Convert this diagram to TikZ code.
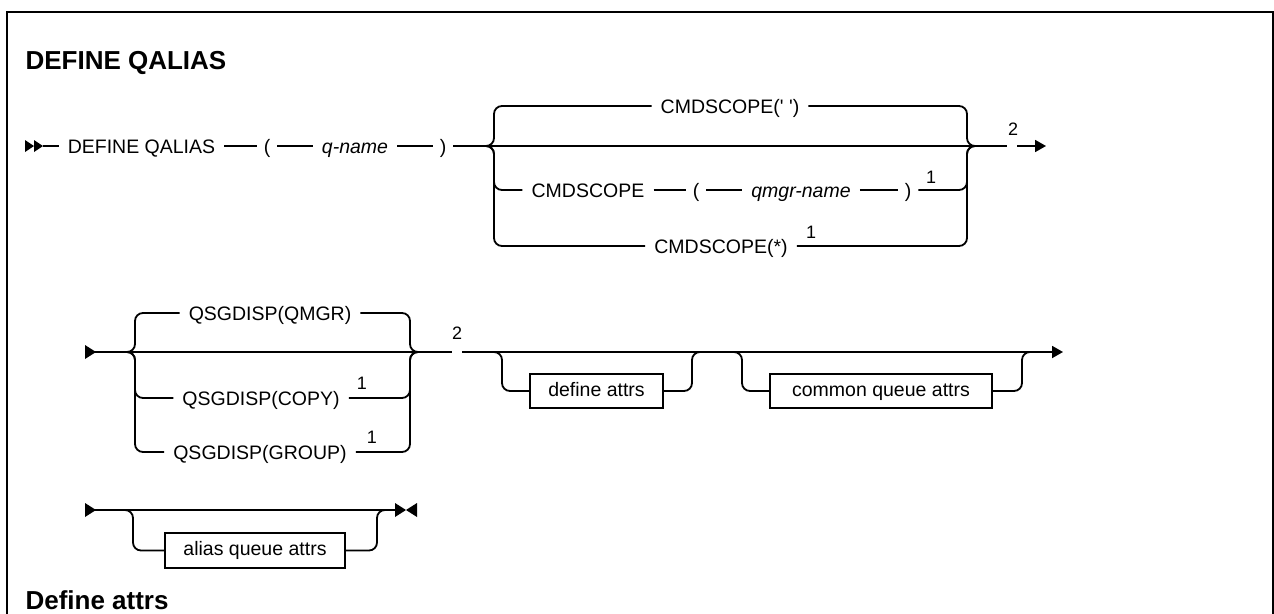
\documentclass[tikz,border=0pt]{standalone}
\usepackage{fontspec}
\setmainfont{Liberation Sans}[Ligatures=TeXOff]
\usetikzlibrary{arrows.meta,positioning}

\begin{document}
\begin{tikzpicture}[
    x=1pt, y=-1pt,
    rail/.style={line width=1.8pt},
    railbend/.style={rail, rounded corners=8pt},
    railend/.style={rail, -{Triangle[length=11pt,width=12pt]}},
    kw/.style={font=\fontsize{19.5}{23}\selectfont, inner xsep=9pt, inner ysep=0pt, text height=14pt, text depth=0pt},
    var/.style={kw, font=\fontsize{19.5}{23}\selectfont\itshape},
    sym/.style={kw, inner xsep=7pt},
    attrbox/.style={draw, line width=1.4pt, font=\fontsize{19.5}{23}\selectfont, inner xsep=8pt, text height=14pt, text depth=4pt, minimum height=34pt},
    note/.style={font=\fontsize{18}{20}\selectfont, inner sep=0pt},
    gap/.style={inner sep=0pt, minimum width=10pt, minimum height=1pt},
    title/.style={font=\fontsize{26}{30}\selectfont\bfseries, anchor=west, text height=19pt, text depth=0pt}
]
    \useasboundingbox (0,0) rectangle (1274,613);
    % frame, open at the bottom
    \draw[line width=2pt] (7,620) -- (7,12) -- (1273,12) -- (1273,620);

    \node[title] (maintitle) at (22,60) {DEFINE QALIAS};
    \node[title] (subtitle) at (22,600) {Define attrs};

    % first row
    \fill (25,140) -- (34,146) -- (25,152) -- cycle;
    \fill (34,140) -- (43,146) -- (34,152) -- cycle;
    \coordinate (s1) at (43,146);
    \node[kw] (define) at (141.5,146) {DEFINE QALIAS};
    \node[sym] (lp1) at (267,146) {(};
    \node[var] (qname) at (355,146) {q-name};
    \node[sym] (rp1) at (443,146) {)};
    \coordinate (c1L) at (494,146);
    \coordinate (c1R) at (967,146);
    \node[gap] (n1) at (1012,146) {};
    \node[note] (fn2a) at (1013,129) {2};
    \coordinate (e1) at (1046,146);

    \node[kw] (cmdblank) at (730,106) {CMDSCOPE(' ')};
    \node[kw] (cmdscope) at (588,190) {CMDSCOPE};
    \node[sym] (lp2) at (696,190) {(};
    \node[var] (qmgr) at (801,190) {qmgr-name};
    \node[sym] (rp2) at (908,190) {)};
    \node[note] (fn1a) at (931,177) {1};
    \node[kw] (cmdall) at (721,246) {CMDSCOPE(*)};
    \node[note] (fn1b) at (811,232) {1};

    \draw[rail] (s1) -- (define) -- (lp1) -- (qname) -- (rp1) -- (c1L) -- (c1R) -- (n1);
    \draw[railend] (n1) -- (e1);
    \draw[railbend] ([xshift=-8pt]c1L) -- (c1L) |- (cmdblank);
    \draw[railbend] (cmdblank) -| (c1R) -- ([xshift=8pt]c1R);
    \draw[railbend] ([xshift=-8pt]c1L) -- (c1L) |- (cmdscope);
    \draw[rail] (cmdscope) -- (lp2) -- (qmgr) -- (rp2);
    \draw[railbend] (rp2) -| (c1R) -- ([xshift=8pt]c1R);
    \draw[railbend] ([xshift=-8pt]c1L) -- (c1L) |- (cmdall);
    \draw[railbend] (cmdall) -| (c1R) -- ([xshift=8pt]c1R);

    % second row
    \fill (85,345) -- (96,352) -- (85,359) -- cycle;
    \coordinate (s2) at (95,352);
    \coordinate (c2L) at (135,352);
    \coordinate (c2R) at (410,352);
    \node[kw] (dispqmgr) at (270,313) {QSGDISP(QMGR)};
    \node[kw] (dispcopy) at (261,398) {QSGDISP(COPY)};
    \node[note] (fn1c) at (362,383) {1};
    \node[kw] (dispgroup) at (260,452) {QSGDISP(GROUP)};
    \node[note] (fn1d) at (372,437) {1};
    \node[gap] (n2) at (457,352) {};
    \node[note] (fn2b) at (457,333) {2};
    \coordinate (o1a) at (492,352);
    \coordinate (o1b) at (701,352);
    \node[attrbox, minimum width=133pt] (defattrs) at (596.5,391) {define attrs};
    \coordinate (o2a) at (732,352);
    \coordinate (o2b) at (1029,352);
    \node[attrbox, minimum width=222pt] (comattrs) at (881,391) {common queue attrs};
    \coordinate (e2) at (1063,352);

    \draw[rail] (s2) -- (c2L) -- (c2R) -- (n2);
    \draw[railend] (n2) -- (e2);
    \draw[railbend] ([xshift=-8pt]c2L) -- (c2L) |- (dispqmgr);
    \draw[railbend] (dispqmgr) -| (c2R) -- ([xshift=8pt]c2R);
    \draw[railbend] ([xshift=-8pt]c2L) -- (c2L) |- (dispcopy);
    \draw[railbend] (dispcopy) -| (c2R) -- ([xshift=8pt]c2R);
    \draw[railbend] ([xshift=-8pt]c2L) -- (c2L) |- (dispgroup);
    \draw[railbend] (dispgroup) -| (c2R) -- ([xshift=8pt]c2R);
    \draw[railbend] (o1a) -- ([xshift=10pt]o1a) |- (defattrs);
    \draw[railbend] (defattrs) -| ([xshift=-9pt]o1b) -- (o1b);
    \draw[railbend] (o2a) -- ([xshift=10pt]o2a) |- (comattrs);
    \draw[railbend] (comattrs) -| ([xshift=-7pt]o2b) -- (o2b);

    % third row
    \fill (85,503) -- (96,510) -- (85,517) -- cycle;
    \coordinate (s3) at (95,510);
    \coordinate (o3a) at (127,510);
    \coordinate (o3b) at (383,510);
    \node[attrbox, minimum width=180pt, minimum height=35pt] (aliasattrs) at (255,550.5) {alias queue attrs};
    \coordinate (e3) at (396,510);
    \draw[rail] (s3) -- (e3);
    \draw[railbend] (o3a) -- ([xshift=6pt]o3a) |- (aliasattrs);
    \draw[railbend] (aliasattrs) -| ([xshift=-6pt]o3b) -- (o3b);
    \fill (395,503) -- (406,510) -- (395,517) -- cycle;
    \fill (417,503) -- (406,510) -- (417,517) -- cycle;
\end{tikzpicture}
\end{document}
